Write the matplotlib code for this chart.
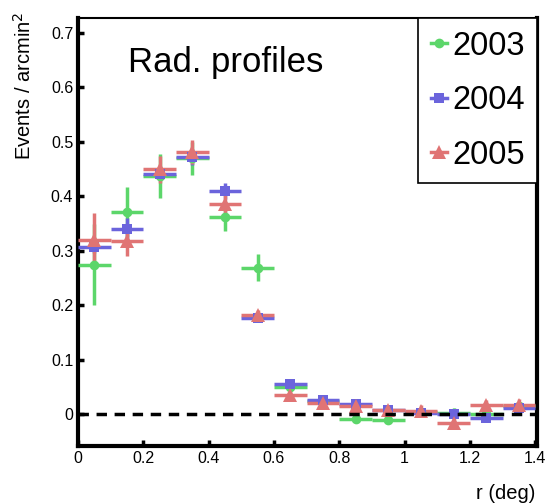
import numpy as np
import matplotlib.pyplot as plt
from matplotlib.lines import Line2D

plt.rcParams["font.family"] = ["Liberation Sans", "DejaVu Sans"]

r = [0.05, 0.15, 0.25, 0.35, 0.45, 0.55, 0.65, 0.75, 0.85, 0.95, 1.05, 1.15, 1.25, 1.35]
r_err = [0.05] * 14

y2003 = [0.275, 0.372, 0.437, 0.470, 0.363, 0.269, 0.050, 0.024, -0.008, -0.010, 0.004, 0.003, 0.000, 0.016]
e2003 = [0.075, 0.046, 0.040, 0.030, 0.027, 0.025, 0.008, 0.006, 0.008, 0.008, 0.006, 0.008, 0.006, 0.006]
y2004 = [0.308, 0.340, 0.441, 0.472, 0.410, 0.177, 0.055, 0.027, 0.020, 0.008, 0.002, 0.000, -0.006, 0.011]
e2004 = [0.012, 0.020, 0.012, 0.015, 0.015, 0.006, 0.006, 0.005, 0.005, 0.005, 0.005, 0.005, 0.006, 0.006]
y2005 = [0.320, 0.318, 0.450, 0.482, 0.386, 0.182, 0.036, 0.021, 0.016, 0.008, 0.007, -0.015, 0.018, 0.018]
e2005 = [0.050, 0.028, 0.025, 0.022, 0.020, 0.010, 0.010, 0.010, 0.010, 0.010, 0.010, 0.010, 0.008, 0.010]

series = [
    ("2003", y2003, e2003, "#5cd66a", "o", 7),
    ("2004", y2004, e2004, "#6b64dc", "s", 7),
    ("2005", y2005, e2005, "#e07474", "^", 10),
]

fig = plt.figure(figsize=(5.47, 5.04), dpi=100)
ax = fig.add_axes([0.1426, 0.115, 0.839, 0.849])

ax.axhline(0, color="black", lw=2.5, ls=(0, (3, 2.2)), zorder=5)

handles = []
for name, y, e, c, m, ms in series:
    ax.errorbar(r, y, xerr=r_err, yerr=e, fmt=m, color=c, ms=ms, elinewidth=2.5,
                capsize=0, mew=0, zorder=3)
    handles.append(Line2D([], [], color=c, marker=m, ms=ms, lw=2.5, mew=0))

ax.set_xlim(0, 1.405)
ax.set_ylim(-0.058, 0.727)
ax.set_xticks(np.arange(0, 1.41, 0.2))
ax.set_xticklabels(["0", "0.2", "0.4", "0.6", "0.8", "1", "1.2", "1.4"])
ax.set_yticks(np.arange(0, 0.71, 0.1))
ax.set_yticklabels(["0", "0.1", "0.2", "0.3", "0.4", "0.5", "0.6", "0.7"])
ax.tick_params(direction="in", width=2.5, length=4, labelsize=11.5, top=False, right=False)
for s in ["left", "bottom", "right"]:
    ax.spines[s].set_linewidth(3)
ax.spines["top"].set_linewidth(1.5)

ax.text(0.108, 0.935, "Rad. profiles", transform=ax.transAxes, fontsize=25, va="top")

leg = ax.legend(handles, ["2003", "2004", "2005"], loc="upper right", fontsize=23.5,
                frameon=True, fancybox=False, edgecolor="black", framealpha=1,
                borderaxespad=0, handlelength=0.5, handletextpad=0.15,
                labelspacing=0.72, borderpad=0.38)
leg.get_frame().set_linewidth(1.2)

fig.text(0.044, 0.976, "Events / arcmin$^2$", rotation=90, va="top", ha="center", fontsize=14.5)
fig.text(0.978, 0.01, "r (deg)", ha="right", va="baseline", fontsize=14.5)

fig.savefig("out.png", dpi=100)
